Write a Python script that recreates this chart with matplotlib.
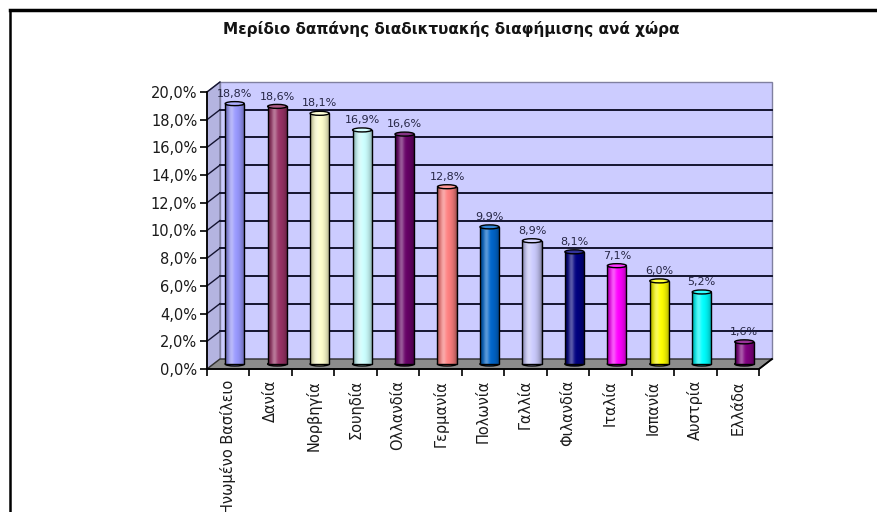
import numpy as np
import matplotlib
matplotlib.use("Agg")
from matplotlib import pyplot as plt
from matplotlib.patches import Polygon, Ellipse
from matplotlib.lines import Line2D
from matplotlib.colors import to_rgb

# données
pays = ["Ηνωμένο Βασίλειο", "Δανία", "Νορβηγία", "Σουηδία", "Ολλανδία", "Γερμανία",
        "Πολωνία", "Γαλλία", "Φιλανδία", "Ιταλία", "Ισπανία", "Αυστρία", "Ελλάδα"]
valeurs = [18.8, 18.6, 18.1, 16.9, 16.6, 12.8, 9.9, 8.9, 8.1, 7.1, 6.0, 5.2, 1.6]
couleurs = ["#9999FF", "#993366", "#FFFFCC", "#CCFFFF", "#660066", "#FF8080", "#0066CC",
            "#CCCCFF", "#000080", "#FF00FF", "#FFFF00", "#00FFFF", "#800080"]
yticks = [0, 2, 4, 6, 8, 10, 12, 14, 16, 18, 20]
titre = "Μερίδιο δαπάνης διαδικτυακής διαφήμισης ανά χώρα"

plt.rcParams['font.family'] = ['DejaVu Sans']

fig = plt.figure(figsize=(8.77, 5.12), dpi=100)
ax = fig.add_axes([207/877, 1-369/512, 552/877, 277/512])
n = len(pays)
ax.set_xlim(0, n)
ax.set_ylim(0, 20)
ax.set_autoscale_on(False)
ax.patch.set_visible(False)

# profondeur 3D (pixels -> unités de données)
ddx = 13 / (552/n)
ddy = 10 / (277/20)

# murs et sol
ax.add_patch(Polygon([(ddx, ddy), (n+ddx, ddy), (n+ddx, 20+ddy), (ddx, 20+ddy)],
                     closed=True, fc="#CCCCFF", ec="#8080a0", lw=1, zorder=0, clip_on=False))
ax.add_patch(Polygon([(0, 0), (ddx, ddy), (ddx, 20+ddy), (0, 20)],
                     closed=True, fc="#b4b4e0", ec="#8080a0", lw=1, zorder=0, clip_on=False))
ax.add_patch(Polygon([(0, 0), (n, 0), (n+ddx, ddy), (ddx, ddy)],
                     closed=True, fc="#8c8c8c", ec="#303030", lw=1, zorder=1, clip_on=False))
for v in yticks[1:-1]:
    ax.plot([ddx, n+ddx], [v+ddy, v+ddy], color="#141430", lw=1.4, zorder=0.5, clip_on=False)
for v in yticks[1:]:
    ax.plot([0, ddx], [v, v+ddy], color="#141430", lw=1, zorder=0.5, clip_on=False)

def cylindre(rgb, m=48):
    t = np.linspace(0, 1, m)
    fonce = 0.55 + 0.45*np.sin(np.pi*t)**0.6
    hl = 0.35*np.exp(-((t-0.32)/0.14)**2)
    base = np.array(rgb)[None, :]*fonce[:, None]
    col = base + hl[:, None]*(1-base)
    return np.clip(col, 0, 1)[None, :, :]

w = 0.45
eh = 4 / (277/20)
xs = np.arange(n) + 0.5 + ddx/2
b0 = ddy/2
barres = ax.bar(xs, valeurs, width=w, bottom=b0, color=couleurs, lw=0, zorder=3)
for x, v, c, p in zip(xs, valeurs, couleurs, barres):
    rgb = to_rgb(c)
    im = ax.imshow(cylindre(rgb), extent=[x-w/2, x+w/2, b0, b0+v], aspect='auto',
                   interpolation='bilinear', zorder=3.2)
    im.set_clip_path(p)
    ax.add_patch(Ellipse((x, b0), w, eh, fc=c, ec="black", lw=1, zorder=2.9))
    haut = tuple(np.clip(np.array(rgb)*0.8 + 0.2, 0, 1))
    ax.add_patch(Ellipse((x, b0+v), w, eh, fc=haut, ec="black", lw=1, zorder=3.6))
    ax.text(x, b0+v+0.35, f"{v:.1f}".replace(".", ",") + "%", ha="center", va="bottom",
            fontsize=8, color="#262645", zorder=5)
ax.bar(xs, valeurs, width=w, bottom=b0, fill=False, ec="black", lw=1, zorder=3.4)

# axes
for s in ["top", "right"]:
    ax.spines[s].set_visible(False)
for s in ["left", "bottom"]:
    ax.spines[s].set_color("black")
    ax.spines[s].set_linewidth(1.3)
    ax.spines[s].set_zorder(6)
ax.plot([n, n+ddx], [0, ddy], color="black", lw=1.3, zorder=6, clip_on=False)

ax.set_yticks(yticks)
ax.set_yticklabels([f"{v:.1f}".replace(".", ",") + "%" for v in yticks])
ax.tick_params(axis="y", direction="out", length=5, width=1.2, pad=2, labelsize=10.5,
               labelcolor="#1a1a1a")
ax.set_xticks(np.arange(n+1))
ax.set_xticklabels([])
ax.set_xticks(np.arange(n) + 0.5, minor=True)
ax.set_xticklabels(pays, minor=True, rotation=90, va="top", ha="center")
ax.tick_params(axis="x", which="major", direction="out", length=5, width=1.2)
ax.tick_params(axis="x", which="minor", length=0, pad=8, labelsize=10.5, labelcolor="#1a1a1a")

fig.text(451/877, 1-29/512, titre, ha="center", va="center", fontsize=11, fontweight="bold",
         color="#141414")

# cadre
fig.add_artist(Line2D([10/877, 1], [1-10/512, 1-10/512], color="black", lw=2.5))
fig.add_artist(Line2D([10/877, 10/877], [0, 1-10/512], color="black", lw=1.8))

fig.savefig("out.png", dpi=100)
